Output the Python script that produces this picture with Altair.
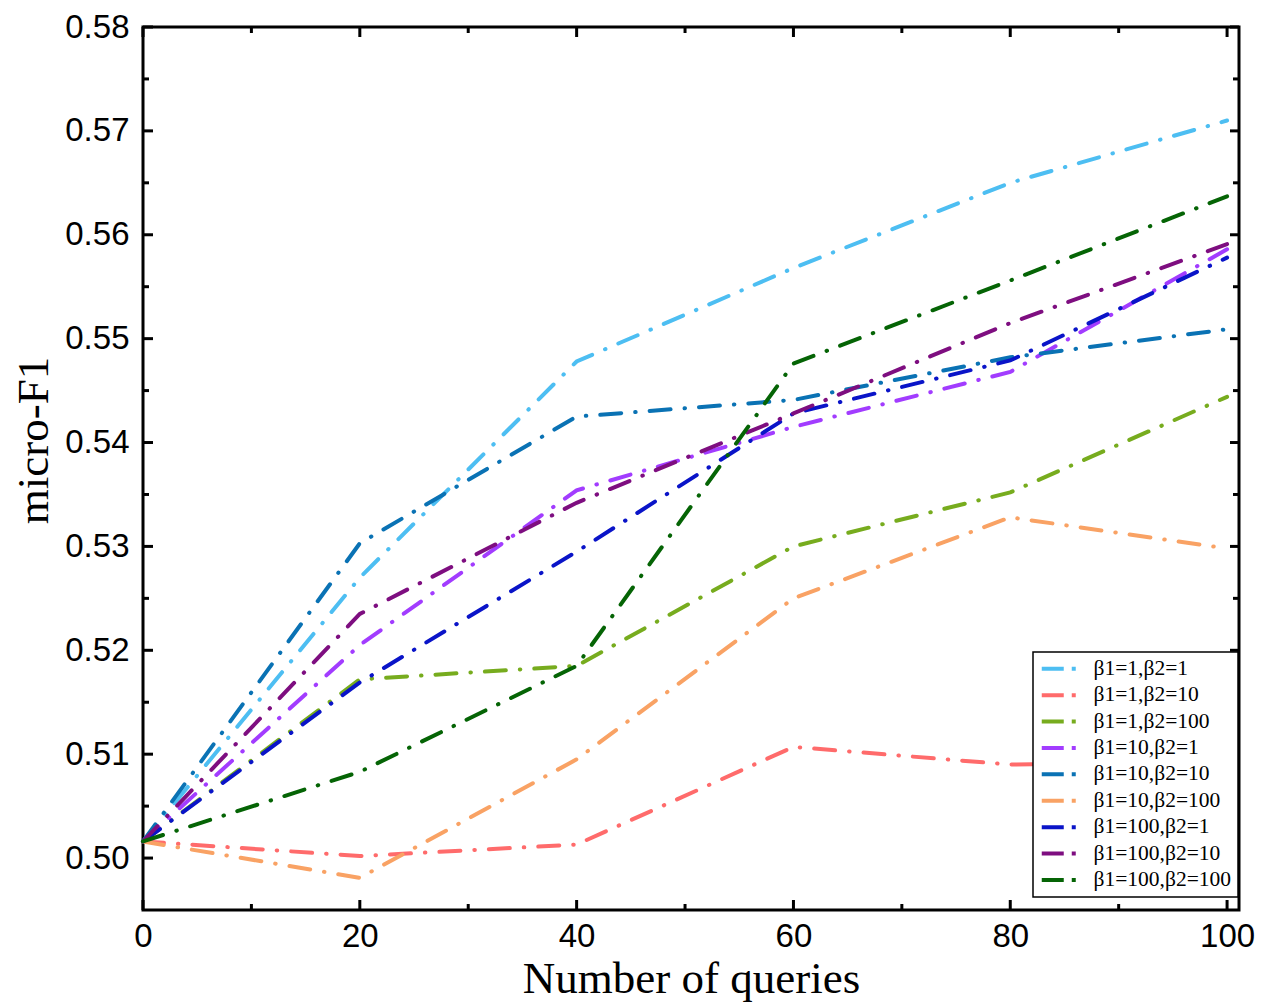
import altair as alt
import pandas as pd

# ---- data ----
queries = [0, 20, 40, 60, 80, 100]
series_names = [
    "β1=1,β2=1", "β1=1,β2=10", "β1=1,β2=100",
    "β1=10,β2=1", "β1=10,β2=10", "β1=10,β2=100",
    "β1=100,β2=1", "β1=100,β2=10", "β1=100,β2=100",
]
series_colors = [
    "#4DBEF2", "#FF6B6B", "#77AC1E",
    "#A23CFF", "#0A72B4", "#F9A264",
    "#0A14C8", "#7E0E80", "#056405",
]
b1_1_b2_1 = [0.5016, 0.5270, 0.5478, 0.5568, 0.5650, 0.5710]
b1_1_b2_10 = [0.5016, 0.5002, 0.5013, 0.5107, 0.5090, 0.5094]
b1_1_b2_100 = [0.5016, 0.5172, 0.5185, 0.5300, 0.5352, 0.5444]
b1_10_b2_1 = [0.5016, 0.5205, 0.5354, 0.5415, 0.5468, 0.5586]
b1_10_b2_10 = [0.5016, 0.5303, 0.5425, 0.5441, 0.5482, 0.5509]
b1_10_b2_100 = [0.5016, 0.4981, 0.5095, 0.5250, 0.5328, 0.5298]
b1_100_b2_1 = [0.5016, 0.5169, 0.5295, 0.5428, 0.5479, 0.5578]
b1_100_b2_10 = [0.5016, 0.5235, 0.5342, 0.5428, 0.5515, 0.5591]
b1_100_b2_100 = [0.5016, 0.5083, 0.5185, 0.5476, 0.5556, 0.5637]

all_series = [b1_1_b2_1, b1_1_b2_10, b1_1_b2_100, b1_10_b2_1, b1_10_b2_10,
              b1_10_b2_100, b1_100_b2_1, b1_100_b2_10, b1_100_b2_100]

x_major = [0, 20, 40, 60, 80, 100]
x_minor = [10, 30, 50, 70, 90]
y_major = [0.50, 0.51, 0.52, 0.53, 0.54, 0.55, 0.56, 0.57, 0.58]
y_minor = [0.505, 0.515, 0.525, 0.535, 0.545, 0.555, 0.565, 0.575]

rows = []
for order, (name, vals) in enumerate(zip(series_names, all_series)):
    for q, v in zip(queries, vals):
        rows.append({"series": name, "queries": q, "f1": v, "order": order})
df = pd.DataFrame(rows)

W, H = 1096, 883
x_scale = alt.Scale(domain=[0, 101.1], nice=False, zero=False)
y_scale = alt.Scale(domain=[0.495, 0.58], nice=False, zero=False)

x_axis = alt.Axis(values=x_major, format="d", labelPadding=10,
                  labelFlush=False, labelOverlap=False,
                  title="Number of queries", titleY=82,
                  titleBaseline="alphabetic")
y_axis = alt.Axis(values=y_major, format=".2f", labelPadding=14,
                  labelOverlap=False,
                  title="micro-F1", titleAngle=270, titleX=-96,
                  titleY=413, titleAlign="center",
                  titleBaseline="alphabetic")

lines = alt.Chart(df).mark_line(
    strokeWidth=4, strokeCap="round", strokeDash=[21, 14, 0.5, 14]
).encode(
    x=alt.X("queries:Q", scale=x_scale, axis=x_axis, title="Number of queries"),
    y=alt.Y("f1:Q", scale=y_scale, axis=y_axis, title="micro-F1"),
    color=alt.Color("series:N",
                    scale=alt.Scale(domain=series_names, range=series_colors),
                    legend=alt.Legend(
                        title=None, orient="none", legendX=890, legendY=625,
                        symbolType="M-1,0H1.75M2.75,0H3.25", symbolSize=256,
                        symbolStrokeWidth=4, symbolDash=[1000, 0],
                        labelFont="Liberation Serif",
                        labelFontSize=21.5, labelColor="black", labelOffset=33,
                        rowPadding=3.4, padding=6, strokeColor="black",
                        fillColor="white",
                    )),
    order=alt.Order("order:Q"),
    detail="series:N",
)

ymaj = pd.DataFrame({"f1": y_major})
ymin = pd.DataFrame({"f1": y_minor})
xmaj = pd.DataFrame({"queries": x_major})
xmin = pd.DataFrame({"queries": x_minor})

def yticks(data, x0, x1):
    return alt.Chart(data).mark_rule(color="black", strokeWidth=3).encode(
        y=alt.Y("f1:Q", scale=y_scale, axis=y_axis, title="micro-F1"),
        x=alt.value(x0), x2=alt.value(x1))

def xticks(data, y0, y1):
    return alt.Chart(data).mark_rule(color="black", strokeWidth=3).encode(
        x=alt.X("queries:Q", scale=x_scale, axis=x_axis, title="Number of queries"),
        y=alt.value(y0), y2=alt.value(y1))

ticks = [
    yticks(ymaj, 0, 10), yticks(ymin, 0, 6),
    yticks(ymaj, W - 9, W), yticks(ymin, W - 6, W),
    xticks(xmaj, H, H - 10), xticks(xmin, H, H - 6),
    xticks(xmaj, 0, 10), xticks(xmin, 0, 6),
]

chart = alt.layer(lines, *ticks).properties(
    width=W, height=H,
    autosize=alt.AutoSizeParams(type="none"),
    padding={"left": 143, "top": 27, "right": 26, "bottom": 95},
    background="white",
).configure_view(
    stroke="black", strokeWidth=3
).configure_axis(
    domain=False, grid=False, ticks=False, tickSize=0,
    labelFont="Liberation Sans", labelFontSize=33, labelColor="black",
    titleFont="Liberation Serif", titleFontSize=45, titleFontWeight="normal",
    titleColor="black"
).configure_legend(
    strokeWidth=1.5
)

chart.save("out.html", embed_options={"renderer": "svg", "actions": False})
